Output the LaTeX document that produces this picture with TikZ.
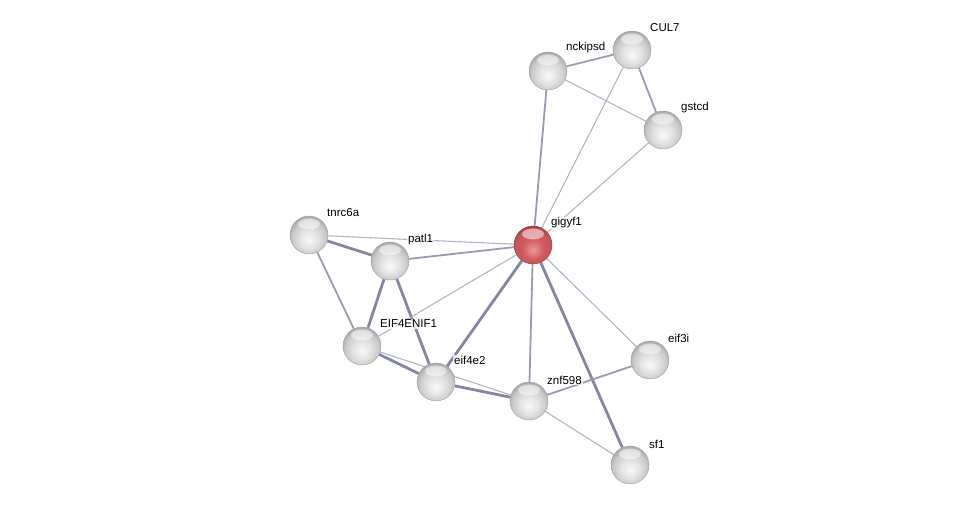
\documentclass[tikz,border=0pt]{standalone}
\usepackage{fontspec}
\setmainfont{Liberation Sans}
\usetikzlibrary{backgrounds}
\definecolor{edgec}{RGB}{152,155,180}
\definecolor{edged}{RGB}{132,135,162}
\definecolor{redmid}{RGB}{206,92,96}
\definecolor{redrim}{RGB}{150,52,56}
\definecolor{redlow}{RGB}{236,150,152}
\pgfdeclareradialshading{greyball}{\pgfpoint{0bp}{-7bp}}{color(0bp)=(gray!4); color(12bp)=(gray!22); color(22bp)=(gray!42); color(28bp)=(gray!68); color(50bp)=(gray!68)}
\pgfdeclareradialshading{redball}{\pgfpoint{0bp}{-7bp}}{color(0bp)=(redlow); color(14bp)=(redmid); color(24bp)=(redmid!85!redrim); color(30bp)=(redrim); color(50bp)=(redrim)}
\begin{document}
\begin{tikzpicture}[x=1pt, y=-1pt,
    prot/.style={circle, minimum size=38pt, inner sep=0pt, shading=greyball, draw=gray!75, line width=0.4pt,
      path picture={\fill[white, opacity=0.5] ([yshift=-8pt]path picture bounding box.north) ellipse (11pt and 5.5pt);}},
    query/.style={prot, shading=redball, draw=redrim},
    lbl/.style={anchor=west, inner sep=1pt, fill=white, fill opacity=0.75, text opacity=1,
      font=\fontsize{11.5}{13}\selectfont},
    weak/.style={edgec!75, line width=1.1pt},
    med/.style={edgec, line width=1.8pt},
    strong/.style={edged, line width=2.8pt}]
    \useasboundingbox (0,0) rectangle (976,510);

    % proteins
    \node[prot] (nckipsd) at (548,71) {};
    \node[prot] (CUL7) at (632,50) {};
    \node[prot] (gstcd) at (663,130) {};
    \node[prot] (tnrc6a) at (309,235) {};
    \node[prot] (patl1) at (390,261) {};
    \node[query] (gigyf1) at (533,245) {};
    \node[prot] (EIF4ENIF1) at (362,346) {};
    \node[prot] (eif4e2) at (436,382) {};
    \node[prot] (znf598) at (529,401) {};
    \node[prot] (eif3i) at (650,360) {};
    \node[prot] (sf1) at (630,465) {};

    % interactions
    \begin{scope}[on background layer]
        \draw[med] (nckipsd) -- (CUL7);
        \draw[weak] (nckipsd) -- (gstcd);
        \draw[med] (CUL7) -- (gstcd);
        \draw[med] (nckipsd) -- (gigyf1);
        \draw[weak] (CUL7) -- (gigyf1);
        \draw[weak] (gstcd) -- (gigyf1);
        \draw[weak] (tnrc6a) -- (gigyf1);
        \draw[strong] (tnrc6a) -- (patl1);
        \draw[med] (tnrc6a) -- (EIF4ENIF1);
        \draw[med] (patl1) -- (gigyf1);
        \draw[strong] (patl1) -- (EIF4ENIF1);
        \draw[strong] (patl1) -- (eif4e2);
        \draw[weak] (EIF4ENIF1) -- (gigyf1);
        \draw[strong] (EIF4ENIF1) -- (eif4e2);
        \draw[weak] (EIF4ENIF1) -- (znf598);
        \draw[strong] (eif4e2) -- (znf598);
        \draw[strong] (eif4e2) -- (gigyf1);
        \draw[med] (znf598) -- (gigyf1);
        \draw[weak] (gigyf1) -- (eif3i);
        \draw[strong] (gigyf1) -- (sf1);
        \draw[med] (znf598) -- (eif3i);
        \draw[weak] (znf598) -- (sf1);
    \end{scope}

    % names
    \node[lbl] (nckipsd-l) at (565,48) {nckipsd};
    \node[lbl] (CUL7-l) at (649,28) {CUL7};
    \node[lbl] (gstcd-l) at (680,108) {gstcd};
    \node[lbl] (tnrc6a-l) at (326,213) {tnrc6a};
    \node[lbl] (patl1-l) at (407,240) {patl1};
    \node[lbl] (gigyf1-l) at (550,223) {gigyf1};
    \node[lbl] (EIF4ENIF1-l) at (379,324) {EIF4ENIF1};
    \node[lbl] (eif4e2-l) at (453,360) {eif4e2};
    \node[lbl] (znf598-l) at (546,380) {znf598};
    \node[lbl] (eif3i-l) at (667,338) {eif3i};
    \node[lbl] (sf1-l) at (648,444) {sf1};
\end{tikzpicture}
\end{document}
